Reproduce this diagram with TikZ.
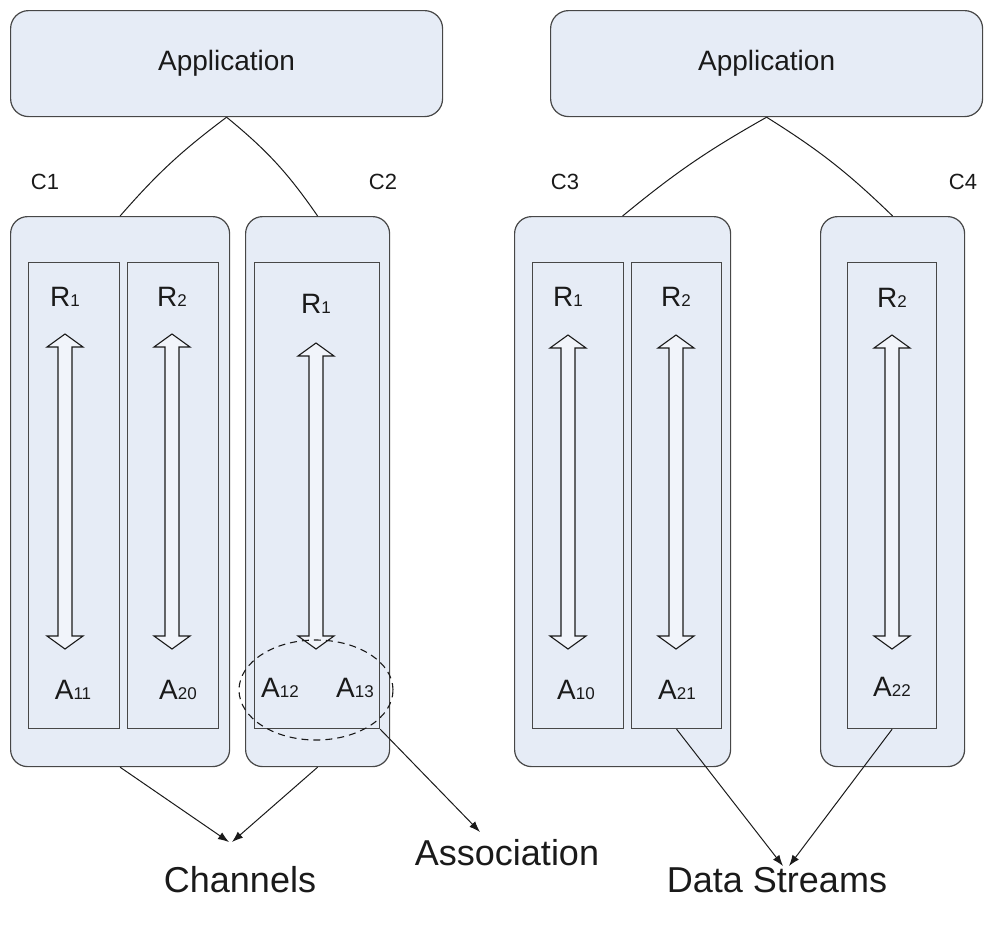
\documentclass[tikz,border=0pt]{standalone}
\usepackage{fontspec}
\setmainfont{Liberation Sans}
\usetikzlibrary{arrows.meta,shapes.geometric}

\definecolor{boxfill}{HTML}{E6ECF6}
\definecolor{arrowfill}{HTML}{F1F4FA}
\definecolor{edgegrey}{HTML}{474747}
\definecolor{inkcol}{HTML}{1A1A1A}

% small digits sitting on the baseline after a capital letter
\newcommand{\idx}[1]{{\fontsize{17}{17}\selectfont #1}}

% hollow double-headed arrow: centre x, top y, bottom y
\newcommand{\hollowarrow}[3]{%
  \draw[hollow] (#1,#2) -- ++(18,13) -- ++(-11,0) -- (#1+7,#3-13) -- ++(11,0)
    -- (#1,#3) -- ++(-18,-13) -- ++(11,0) -- (#1-7,#2+13) -- ++(-11,0) -- cycle;}

\tikzset{
  appbox/.style={draw=edgegrey, fill=boxfill, rounded corners=18pt, line width=1.2pt,
    minimum width=432pt, minimum height=106pt, anchor=north west},
  cbox/.style={draw=edgegrey, fill=boxfill, rounded corners=17pt, line width=1.2pt,
    minimum height=550pt, anchor=north west, inner sep=0pt},
  inbox/.style={draw=edgegrey, fill=boxfill, line width=1.2pt,
    minimum height=466pt, anchor=north west, inner sep=0pt},
  lab/.style={font=\fontsize{28}{28}\selectfont, text=inkcol, inner sep=0pt},
  clab/.style={font=\fontsize{22}{22}\selectfont, text=inkcol, inner sep=0pt},
  biglab/.style={font=\fontsize{36}{36}\selectfont, text=inkcol, inner sep=0pt},
  hollow/.style={draw=inkcol, fill=arrowfill, line width=1.1pt, line join=miter},
  link/.style={draw=inkcol, line width=1pt},
  flow/.style={link, -{Latex[length=11pt,width=8pt]}},
}

\begin{document}
\begin{tikzpicture}[x=1pt,y=-1pt]
\useasboundingbox (0,0) rectangle (985,930);

% application boxes
\node[appbox] (app1) at (10,10) {};
\node[lab] at (app1.center) {Application};
\node[appbox] (app2) at (550,10) {};
\node[lab] at (app2.center) {Application};

% containers
\node[cbox, minimum width=219pt] (c1) at (10,216) {};
\node[cbox, minimum width=144pt] (c2) at (245,216) {};
\node[cbox, minimum width=216pt] (c3) at (514,216) {};
\node[cbox, minimum width=144pt] (c4) at (820,216) {};

% inner columns
\node[inbox, minimum width=91pt] (c1a) at (28,262) {};
\node[inbox, minimum width=91pt] (c1b) at (127,262) {};
\node[inbox, minimum width=125pt] (c2a) at (254,262) {};
\node[inbox, minimum width=91pt] (c3a) at (532,262) {};
\node[inbox, minimum width=90pt] (c3b) at (631,262) {};
\node[inbox, minimum width=89pt] (c4a) at (847,262) {};

% container labels
\node[clab] (l1) at (45,182) {C1};
\node[clab] (l2) at (383,182) {C2};
\node[clab] (l3) at (565,182) {C3};
\node[clab] (l4) at (963,182) {C4};

% double arrows
\hollowarrow{65}{334}{649}
\hollowarrow{172}{334}{649}
\hollowarrow{316}{343}{649}
\hollowarrow{568}{335}{649}
\hollowarrow{676}{335}{649}
\hollowarrow{892}{335}{649}

% top labels
\node[lab] (r11) at (65,297) {R\idx{1}};
\node[lab] (r12) at (172,297) {R\idx{2}};
\node[lab] (r21) at (316,304) {R\idx{1}};
\node[lab] (r31) at (568,297) {R\idx{1}};
\node[lab] (r32) at (676,297) {R\idx{2}};
\node[lab] (r41) at (892,298) {R\idx{2}};

% bottom labels
\node[lab] (a11) at (73,690) {A\idx{11}};
\node[lab] (a20) at (178,690) {A\idx{20}};
\node[lab] (a12) at (280,688) {A\idx{12}};
\node[lab] (a13) at (355,688) {A\idx{13}};
\node[lab] (a10) at (576,690) {A\idx{10}};
\node[lab] (a21) at (677,690) {A\idx{21}};
\node[lab] (a22) at (892,687) {A\idx{22}};

% association ellipse
\node[draw=inkcol, dash pattern=on 7pt off 5pt, line width=1.1pt,
  ellipse, minimum width=154pt, minimum height=100pt, inner sep=0pt] (assoc) at (316,690) {};

% application links
\draw[link] (app1.south) to[bend right=6] (c1.north);
\draw[link] (app1.south) to[bend left=8] (c2.north);
\draw[link] (app2.south) to[bend right=5] (c3.north);
\draw[link] (app2.south) to[bend left=6] (c4.north);

% outgoing arrows
\coordinate (chL) at (229,842);
\coordinate (chR) at (232,842);
\coordinate (asT) at (480,832);
\coordinate (dsL) at (783,866);
\coordinate (dsR) at (789,866);
\draw[flow] (c1.south) -- (chL);
\draw[flow] (c2.south) -- (chR);
\draw[flow] (c2a.south east) -- (asT);
\draw[flow] (c3b.south) -- (dsL);
\draw[flow] (c4a.south) -- (dsR);

% captions
\node[biglab] (channels) at (240,880) {Channels};
\node[biglab] (association) at (507,853) {Association};
\node[biglab] (streams) at (777,880) {Data Streams};
\end{tikzpicture}
\end{document}
